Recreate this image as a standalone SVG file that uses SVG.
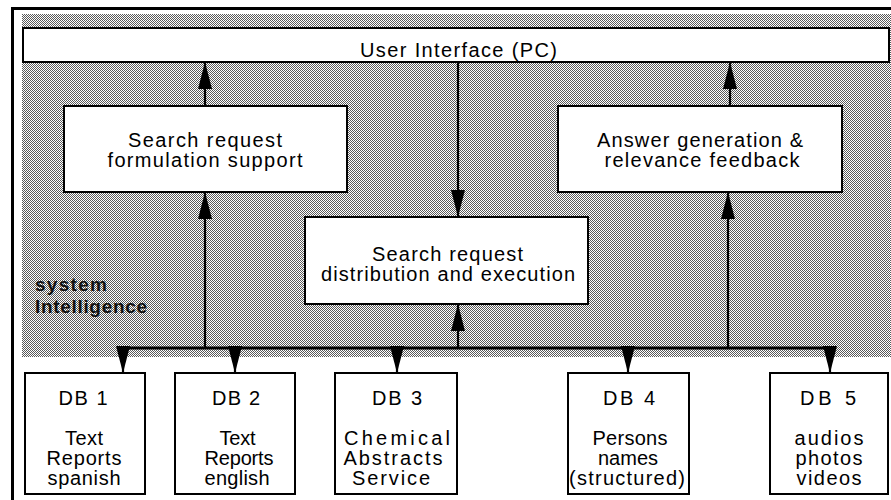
<svg xmlns="http://www.w3.org/2000/svg" width="891" height="500" viewBox="0 0 891 500">
  <defs>
    <!-- dithered grey ground of the system layer -->
    <pattern id="dither" width="2" height="2" patternUnits="userSpaceOnUse">
      <rect width="2" height="2" fill="#ffffff"/>
      <rect x="0" y="0" width="1" height="1" fill="#5a5a5a"/>
      <rect x="1" y="1" width="1" height="1" fill="#5a5a5a"/>
    </pattern>
    <marker id="head" viewBox="0 0 27 14" refX="27" refY="7" markerWidth="27" markerHeight="14" markerUnits="userSpaceOnUse" orient="auto">
      <path d="M0,0 L27,7 L0,14 Z" fill="#000"/>
    </marker>
    <style>
      .box { fill: #ffffff; stroke: #000; stroke-width: 2; }
      .t { font-family: "Liberation Sans", Arial, Helvetica, sans-serif; font-size: 20px; fill: #000; text-anchor: middle; }
      .si { font-family: "Liberation Sans", Arial, Helvetica, sans-serif; font-size: 19px; font-weight: bold; fill: #111; }
      .conn { stroke: #000; stroke-width: 2.2; fill: none; }
      .bus { stroke: #000; stroke-width: 3; fill: none; }
    </style>
  </defs>

  <rect width="891" height="500" fill="#ffffff"/>

  <!-- outer frame and grey layer -->
  <g id="frame">
    <rect x="22" y="14" width="869" height="343" fill="url(#dither)"/>
    <path d="M12.5,500 L12.5,8.5 L891,8.5" fill="none" stroke="#000" stroke-width="3"/>
    <text class="si" x="35" y="291" textLength="72" lengthAdjust="spacing">system</text>
    <text class="si" x="35" y="313" textLength="112" lengthAdjust="spacing">Intelligence</text>
  </g>

  <g id="user-interface">
    <rect class="box" x="23" y="28" width="866" height="34"/>
    <text class="t" x="458.5" y="57" textLength="197" lengthAdjust="spacing">User Interface (PC)</text>
  </g>

  <g id="formulation-support">
    <rect class="box" x="64" y="106" width="283" height="86"/>
    <text class="t" x="205" y="147" textLength="154" lengthAdjust="spacing">Search request</text>
    <text class="t" x="205" y="167" textLength="195" lengthAdjust="spacing">formulation support</text>
  </g>

  <g id="answer-generation">
    <rect class="box" x="558" y="106" width="284" height="86"/>
    <text class="t" x="700" y="147" textLength="206" lengthAdjust="spacing">Answer generation &amp;</text>
    <text class="t" x="702" y="167" textLength="195" lengthAdjust="spacing">relevance feedback</text>
  </g>

  <g id="distribution-execution">
    <rect class="box" x="305" y="217" width="283" height="87"/>
    <text class="t" x="447.5" y="261" textLength="151" lengthAdjust="spacing">Search request</text>
    <text class="t" x="448" y="281" textLength="254" lengthAdjust="spacing">distribution and execution</text>
  </g>

  <g id="db1">
    <rect class="box" x="25" y="373" width="120" height="121"/>
    <text class="t" x="83" y="405" textLength="49" lengthAdjust="spacing">DB 1</text>
    <text class="t" x="84" y="445" textLength="38" lengthAdjust="spacing">Text</text>
    <text class="t" x="84" y="465" textLength="75" lengthAdjust="spacing">Reports</text>
    <text class="t" x="84" y="485" textLength="73" lengthAdjust="spacing">spanish</text>
  </g>

  <g id="db2">
    <rect class="box" x="175" y="373" width="120" height="121"/>
    <text class="t" x="236" y="405" textLength="48" lengthAdjust="spacing">DB 2</text>
    <text class="t" x="237.5" y="445" textLength="36" lengthAdjust="spacing">Text</text>
    <text class="t" x="239" y="465" textLength="69" lengthAdjust="spacing">Reports</text>
    <text class="t" x="237" y="485" textLength="65" lengthAdjust="spacing">english</text>
  </g>

  <g id="db3">
    <rect class="box" x="335" y="373" width="122" height="121"/>
    <text class="t" x="397" y="405" textLength="50" lengthAdjust="spacing">DB 3</text>
    <text class="t" x="397" y="445" textLength="106" lengthAdjust="spacing">Chemical</text>
    <text class="t" x="393" y="465" textLength="99" lengthAdjust="spacing">Abstracts</text>
    <text class="t" x="391" y="485" textLength="78" lengthAdjust="spacing">Service</text>
  </g>

  <g id="db4">
    <rect class="box" x="568" y="373" width="121" height="121"/>
    <text class="t" x="629" y="405" textLength="52" lengthAdjust="spacing">DB 4</text>
    <text class="t" x="630" y="445" textLength="75" lengthAdjust="spacing">Persons</text>
    <text class="t" x="628" y="465" textLength="60" lengthAdjust="spacing">names</text>
    <text class="t" x="627" y="485" textLength="116" lengthAdjust="spacing">(structured)</text>
  </g>

  <g id="db5">
    <rect class="box" x="770" y="373" width="118" height="121"/>
    <text class="t" x="828" y="405" textLength="56" lengthAdjust="spacing">DB 5</text>
    <text class="t" x="829" y="445" textLength="69" lengthAdjust="spacing">audios</text>
    <text class="t" x="829" y="465" textLength="67" lengthAdjust="spacing">photos</text>
    <text class="t" x="829" y="485" textLength="65" lengthAdjust="spacing">videos</text>
  </g>

  <g id="connectors">
    <!-- upward flows into the user interface -->
    <path class="conn" d="M205,106 L205,62" marker-end="url(#head)"/>
    <path class="conn" d="M730,106 L730,62" marker-end="url(#head)"/>
    <!-- request from the user interface down to distribution -->
    <path class="conn" d="M458,62 L458,217" marker-end="url(#head)"/>
    <!-- database bus -->
    <path class="bus" d="M122,348 L831,348"/>
    <path class="conn" d="M205,348 L205,192" marker-end="url(#head)"/>
    <path class="conn" d="M728,348 L728,192" marker-end="url(#head)"/>
    <path class="conn" d="M458,348 L458,304" marker-end="url(#head)"/>
    <path class="conn" d="M123,347 L123,373" marker-end="url(#head)"/>
    <path class="conn" d="M235,347 L235,373" marker-end="url(#head)"/>
    <path class="conn" d="M397,347 L397,373" marker-end="url(#head)"/>
    <path class="conn" d="M628,347 L628,373" marker-end="url(#head)"/>
    <path class="conn" d="M830,347 L830,373" marker-end="url(#head)"/>
  </g>
</svg>
